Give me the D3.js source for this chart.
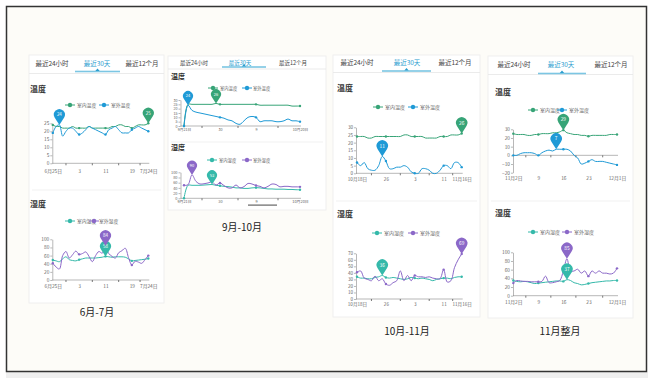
<!DOCTYPE html>
<html><head><meta charset="utf-8">
<script src="https://cdn.jsdelivr.net/npm/d3@7"></script>
<style>html,body{margin:0;padding:0;background:#fff;}svg{display:block;font-family:"Noto Sans CJK SC","Noto Sans",sans-serif;}</style>
</head><body><svg id="c" width="655" height="378"></svg>
<script>
// ---------------- data ----------------
const tabLabels = ["最近24小时", "最近30天", "最近12个月"];
const tempTitle = "温度";
const humTitle = "湿度";
const tempNames = ["室内温度", "室外温度"];
const humNames = ["室内湿度", "室外湿度"];
const captions = ["6月-7月", "9月-10月", "10月-11月", "11月整月"];

// Panel 1: 6月25日 – 7月24日
const junJulLabels = ["6月25日", "3", "11", "19", "7月24日"];
const junJulLabelIdx = [0, 8, 16, 24, 29];
const junJulTempIn  = [24,23,23,22,22,22,23,22,22,22,22,23,22,22,22,22,22,22,23,23,24,24,23,23,22,23,24,24,24,25];
const junJulTempOut = [19,23,24,17,20,22,22,20,18,19,21,23,22,21,20,19,18,21,22,23,21,19,19,19,21,22,23,22,21,20];
const junJulHumIn   = [49,47,45,52,57,50,48,47,50,52,54,54,54,54,55,56,58,57,56,57,57,57,56,52,47,48,49,50,51,53];
const junJulHumOut  = [41,32,27,60,70,54,62,71,63,65,69,58,45,60,70,66,84,65,58,54,67,72,78,55,37,46,44,41,50,60];
const junJulTempTicks = [0,5,10,15,20,25];
const junJulHumTicks = [0,20,40,60,80,100];

// Panel 2: 9月21日 – 10月20日
const sepOctLabels = ["9月21日", "30", "9", "10月20日"];
const sepOctLabelIdx = [0, 9, 18, 29];
const sepOctTempIn  = [0,25,25,25,25,25,25,25,26,25,25,25,25,25,25,25,25,25,25,24,24,24,24,24,24,24,24,23,23,23];
const sepOctTempOut = [0,24,18,16,15,14,13,12,11,10,9,7,6,3,2,6,10,11,10,5,6,6,6,5,5,6,8,6,6,5];
const sepOctHumIn   = [0,50,50,50,50,51,52,53,50,48,46,45,43,40,40,38,38,40,41,40,38,36,36,35,35,35,34,34,33,33];
const sepOctHumOut  = [50,52,90,65,55,56,59,63,51,59,49,40,40,51,40,45,57,55,49,46,40,46,55,53,44,46,46,44,44,44];
const sepOctTempTicks = [0,5,10,15,20,25,30];
const sepOctHumTicks = [0,20,40,60,80,100];

// Panel 3: 10月18日 – 11月16日
const octNovLabels = ["10月18日", "26", "3", "11", "11月16日"];
const octNovLabelIdx = [0, 8, 16, 24, 29];
const octNovTempIn  = [24,24,24,23,23,24,24,24,24,24,24,24,24,25,25,24,24,24,24,23,23,23,23,24,24,24,25,25,25,26];
const octNovTempOut = [7,5,7,3,2,2,5,11,8,3,3,4,4,5,4,1,0,0,3,3,2,0,0,2,5,5,3,7,7,4];
const octNovHumIn   = [34,32,32,31,31,33,34,36,33,32,33,32,31,30,31,33,32,31,32,31,30,28,30,31,32,32,31,33,34,34];
const octNovHumOut  = [41,43,32,30,28,35,28,31,23,21,25,28,43,28,36,28,36,34,34,33,34,32,31,31,45,26,28,48,60,69];
const octNovTempTicks = [0,5,10,15,20,25,30];
const octNovHumTicks = [0,10,20,30,40,50,60,70];

// Panel 4: 11月2日 – 12月1日
const novLabels = ["11月2日", "9", "16", "23", "12月1日"];
const novLabelIdx = [0, 7, 14, 21, 29];
const novTempIn  = [25,24,24,24,23,23,24,24,25,25,25,26,26,27,29,26,25,24,24,23,23,22,23,23,23,23,23,24,24,24];
const novTempOut = [0,0,2,3,3,3,2,0,3,5,6,5,7,7,7,7,5,0,-3,-10,-9,-7,-5,-7,-7,-7,-8,-9,-10,-11];
const novHumIn   = [35,33,32,33,32,30,28,29,30,31,32,33,34,34,33,37,35,30,28,25,26,28,30,31,32,33,34,34,35,35];
const novHumOut  = [29,35,34,33,33,32,32,32,33,45,30,30,32,35,57,85,57,57,61,52,57,45,57,52,57,52,52,50,52,63];
const novTempTicks = [-20,-10,0,10,20,30];
const novHumTicks = [0,20,40,60,80,100];

// ---------------- styles ----------------
const C = { tin:"#37a477", tout:"#1f9ad6", hin:"#35b9aa", hout:"#8b68c8", tab:"#2a9dcf" };
const FONT = '"Noto Sans CJK SC","Noto Sans",sans-serif';

const svg = d3.select("#c");
svg.append("rect").attr("width",655).attr("height",378).attr("fill","#fff");
svg.append("rect").attr("x",6).attr("y",372).attr("width",642).attr("height",6).attr("fill","#efefef");
svg.append("rect").attr("x",6.5).attr("y",6.5).attr("width",640).attr("height",365)
  .attr("fill","#fdfcf8").attr("stroke","#333").attr("stroke-width",1.5);

function card(x,y,w,h,tabLineY,sepY){
  svg.append("rect").attr("x",x).attr("y",y).attr("width",w).attr("height",h).attr("fill","#fff").attr("stroke","#ececec").attr("stroke-width",0.8);
  svg.append("line").attr("x1",x).attr("x2",x+w).attr("y1",tabLineY).attr("y2",tabLineY).attr("stroke","#e6e6e6").attr("stroke-width",0.8);
  svg.append("line").attr("x1",x+3).attr("x2",x+w-3).attr("y1",sepY).attr("y2",sepY).attr("stroke","#eeeeee").attr("stroke-width",0.8);
}

function drawTabs(t){
  tabLabels.forEach((s,i)=>{
    svg.append("text").attr("x",t.centers[i]).attr("y",t.y).attr("dy","0.35em").attr("text-anchor","middle")
      .attr("font-size",t.size).attr("fill", i===1 ? C.tab : "#444").text(s);
  });
  svg.append("rect").attr("x",t.ul[0]).attr("y",t.ul[2]-0.8).attr("width",t.ul[1]-t.ul[0]).attr("height",1.6).attr("fill","#7cc6e3");
  const cx=(t.ul[0]+t.ul[1])/2;
  svg.append("path").attr("d",`M${cx-2.2},${t.ul[2]-0.6}L${cx},${t.ul[2]-3}L${cx+2.2},${t.ul[2]-0.6}Z`).attr("fill",C.tab);
}

function drawPin(g,px,py,r,color,val,fs){
  const d=r*1.85, cy=py-d, th=Math.acos(r/d);
  const lx=px-r*Math.sin(th), rx=px+r*Math.sin(th), ly=cy+r*Math.cos(th);
  g.append("path").attr("d",`M${px},${py}L${lx},${ly}A${r},${r} 0 1 1 ${rx},${ly}Z`).attr("fill",color);
  g.append("text").attr("x",px).attr("y",cy).attr("dy","0.35em").attr("text-anchor","middle")
    .attr("font-size",fs).attr("fill","#fff").text(val);
}

function drawChart(c){
  const g = svg.append("g");
  const n = c.series[0].values.length;
  const x = d3.scaleLinear().domain([0,n-1]).range([c.xi0,c.xi1]);
  const y = d3.scaleLinear().domain([c.ticks[0], c.ticks[c.ticks.length-1]]).range([c.yb,c.yt]);
  g.append("text").attr("x",c.tx).attr("y",c.ty).attr("dy","0.35em").attr("font-size",c.tsize)
    .attr("font-weight","bold").attr("fill","#333").text(c.title);
  c.series.forEach((s,k)=>{
    const it=c.legend.items[k], ly=c.legend.y;
    g.append("line").attr("x1",it[0]-5).attr("x2",it[0]+5).attr("y1",ly).attr("y2",ly).attr("stroke",s.color).attr("stroke-width",1);
    g.append("circle").attr("cx",it[0]).attr("cy",ly).attr("r",2.2).attr("fill",s.color);
    g.append("text").attr("x",it[1]).attr("y",ly).attr("dy","0.35em").attr("font-size",c.legend.size).attr("fill","#666").text(s.name);
  });
  const ga = g.append("g").attr("transform",`translate(${c.ax},0)`)
    .call(d3.axisLeft(y).tickValues(c.ticks).tickSize(2).tickSizeOuter(0).tickPadding(1));
  ga.attr("font-size",c.fs).attr("font-family",FONT);
  ga.selectAll("text").attr("fill","#666");
  ga.selectAll("line,path").attr("stroke","#888").attr("stroke-width",0.6);
  const y0 = y(0);
  g.append("line").attr("x1",c.ax).attr("x2",c.xi1+1).attr("y1",y0).attr("y2",y0).attr("stroke","#888").attr("stroke-width",0.6);
  const mids = c.labelIdx.slice(1).map((v,i)=>(v+c.labelIdx[i])/2);
  g.selectAll(null).data(mids).enter().append("line")
    .attr("x1",d=>x(d)).attr("x2",d=>x(d)).attr("y1",y0).attr("y2",y0+2).attr("stroke","#555").attr("stroke-width",0.8);
  const gx = g.append("g").attr("transform",`translate(0,${c.labY})`)
    .call(d3.axisBottom(x).tickValues(c.labelIdx).tickFormat((d,i)=>c.labels[i]).tickSize(0).tickPadding(0));
  gx.select(".domain").remove();
  gx.attr("font-size",c.fs).attr("font-family",FONT);
  gx.selectAll("text").attr("fill","#666").attr("dy","0.35em").attr("y",0);
  const line = d3.line().x((d,i)=>x(i)).y(d=>y(d)).curve(d3.curveCatmullRom.alpha(0.5));
  c.series.forEach(s=>{
    g.append("path").datum(s.values).attr("d",line).attr("fill","none").attr("stroke",s.color).attr("stroke-width",1);
    g.selectAll(null).data(c.labelIdx).enter().append("circle")
      .attr("cx",i=>x(i)).attr("cy",i=>y(s.values[i])).attr("r",1.2).attr("fill",s.color);
  });
  c.series.forEach(s=>{
    const i=d3.maxIndex(s.values);
    drawPin(g,x(i),y(s.values[i]),c.pinR,s.color,s.values[i],c.pinFs);
  });
}

// ---------------- panels ----------------
card(29,55,135,248,73.5,190);
card(168,56,158,154,69,142);
card(333,55,147,262,72.5,201);
card(488,56,145,262,74.5,201);

drawTabs({y:63.5, centers:[52,97,142], size:6.5, ul:[75,120,71.5]});
drawTabs({y:63, centers:[194,240,293], size:5.5, ul:[222,266,67]});
drawTabs({y:62.5, centers:[357,407,455], size:6.5, ul:[382,431,71]});
drawTabs({y:65, centers:[514,561,611], size:6.5, ul:[538,586,73.5]});

// Panel 1
drawChart({title:tempTitle, tx:30, ty:89, tsize:8, legend:{y:105, size:4.8, items:[[70,77],[104,111]]},
  ax:52.3, xi0:52.8, xi1:148.3, yt:123.3, yb:163.3, ticks:junJulTempTicks, fs:4.8, labY:171,
  labels:junJulLabels, labelIdx:junJulLabelIdx, pinR:5.5, pinFs:4.5,
  series:[{values:junJulTempIn,color:C.tin,name:tempNames[0]},{values:junJulTempOut,color:C.tout,name:tempNames[1]}]});
drawChart({title:humTitle, tx:30, ty:204, tsize:8, legend:{y:221, size:4.8, items:[[70,77],[94,99]]},
  ax:52.3, xi0:52.8, xi1:148.3, yt:239.3, yb:280, ticks:junJulHumTicks, fs:4.8, labY:286,
  labels:junJulLabels, labelIdx:junJulLabelIdx, pinR:5.5, pinFs:4.5,
  series:[{values:junJulHumIn,color:C.hin,name:humNames[0]},{values:junJulHumOut,color:C.hout,name:humNames[1]}]});

// Panel 2
drawChart({title:tempTitle, tx:171, ty:77, tsize:7, legend:{y:88, size:4.3, items:[[213,220],[247,253]]},
  ax:180.5, xi0:184, xi1:300, yt:100, yb:126, ticks:sepOctTempTicks, fs:3.7, labY:130,
  labels:sepOctLabels, labelIdx:sepOctLabelIdx, pinR:5, pinFs:4,
  series:[{values:sepOctTempIn,color:C.tin,name:tempNames[0]},{values:sepOctTempOut,color:C.tout,name:tempNames[1]}]});
drawChart({title:humTitle, tx:171, ty:148, tsize:7, legend:{y:160, size:4.3, items:[[212,219],[247,253]]},
  ax:180.5, xi0:184, xi1:300, yt:172.3, yb:198.3, ticks:sepOctHumTicks, fs:3.9, labY:202,
  labels:sepOctLabels, labelIdx:sepOctLabelIdx, pinR:5, pinFs:4,
  series:[{values:sepOctHumIn,color:C.hin,name:humNames[0]},{values:sepOctHumOut,color:C.hout,name:humNames[1]}]});
// scroll indicator under panel 2
svg.append("rect").attr("x",248).attr("y",204.5).attr("width",29).attr("height",1.2).attr("fill","#666");

// Panel 3
drawChart({title:tempTitle, tx:337, ty:88, tsize:8, legend:{y:107, size:5, items:[[378,385],[413,420]]},
  ax:356, xi0:357, xi1:461.7, yt:127.3, yb:173.3, ticks:octNovTempTicks, fs:4.6, labY:179,
  labels:octNovLabels, labelIdx:octNovLabelIdx, pinR:5.7, pinFs:4.8,
  series:[{values:octNovTempIn,color:C.tin,name:tempNames[0]},{values:octNovTempOut,color:C.tout,name:tempNames[1]}]});
drawChart({title:humTitle, tx:337, ty:214, tsize:8, legend:{y:233, size:5, items:[[377,384],[413,420]]},
  ax:356, xi0:357, xi1:461.7, yt:253.3, yb:299, ticks:octNovHumTicks, fs:4.6, labY:304.5,
  labels:octNovLabels, labelIdx:octNovLabelIdx, pinR:5.7, pinFs:4.8,
  series:[{values:octNovHumIn,color:C.hin,name:humNames[0]},{values:octNovHumOut,color:C.hout,name:humNames[1]}]});

// Panel 4
drawChart({title:tempTitle, tx:495, ty:92, tsize:8, legend:{y:110, size:5, items:[[533,540],[562,569]]},
  ax:513, xi0:513.3, xi1:617, yt:129.3, yb:172.7, ticks:novTempTicks, fs:4.8, labY:178.5,
  labels:novLabels, labelIdx:novLabelIdx, pinR:5.7, pinFs:4.8,
  series:[{values:novTempIn,color:C.tin,name:tempNames[0]},{values:novTempOut,color:C.tout,name:tempNames[1]}]});
drawChart({title:humTitle, tx:495, ty:213, tsize:8, legend:{y:232, size:5, items:[[533,540],[567,574]]},
  ax:513, xi0:513.3, xi1:617, yt:252.3, yb:295.7, ticks:novHumTicks, fs:4.8, labY:302.3,
  labels:novLabels, labelIdx:novLabelIdx, pinR:5.7, pinFs:4.8,
  series:[{values:novHumIn,color:C.hin,name:humNames[0]},{values:novHumOut,color:C.hout,name:humNames[1]}]});

// captions
[[97,312],[242,227],[407,331],[560,331]].forEach((p,i)=>{
  svg.append("text").attr("x",p[0]).attr("y",p[1]).attr("dy","0.35em").attr("text-anchor","middle")
    .attr("font-size",10).attr("fill","#222").text(captions[i]);
});
</script></body></html>
